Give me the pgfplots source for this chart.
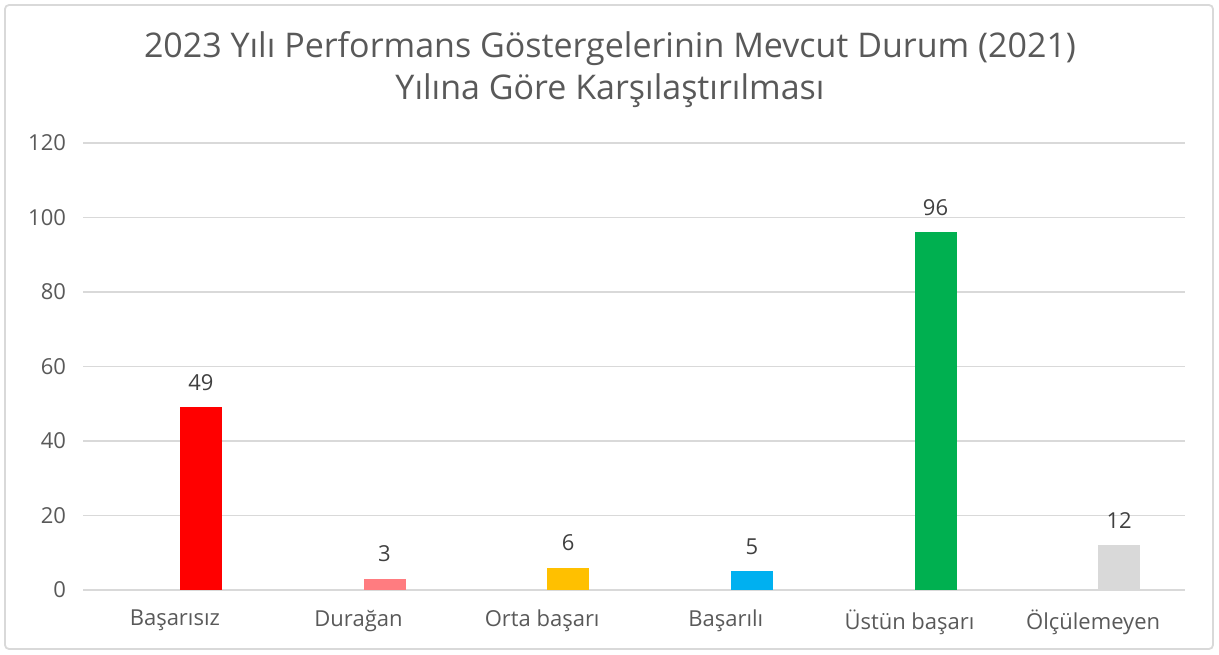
\documentclass[border=0pt]{standalone}
\usepackage{fontspec}
\setmainfont{Open Sans}
\usepackage{pgfplots}
\pgfplotsset{compat=1.18}
\definecolor{gridc}{HTML}{D9D9D9}
\definecolor{txt}{HTML}{595959}
\definecolor{lbl}{HTML}{404040}
\definecolor{c1}{HTML}{FF0000}
\definecolor{c2}{HTML}{FF7C80}
\definecolor{c3}{HTML}{FFC000}
\definecolor{c4}{HTML}{00B0F0}
\definecolor{c5}{HTML}{00B050}
\definecolor{c6}{HTML}{D9D9D9}
\begin{document}
\begin{tikzpicture}[x=0.5pt,y=0.5pt]
\path[use as bounding box] (0,0) rectangle (1219,654);
\draw[gridc, line width=0.9pt, rounded corners=2pt] (5,5) rectangle (1213,649);
\node[text=txt, font=\fontsize{17}{21}\selectfont, align=center] at (610,584) {2023 Yılı Performans Göstergelerinin Mevcut Durum (2021)\\Yılına Göre Karşılaştırılması};
\begin{axis}[
  at={(41.5pt,32pt)}, anchor=south west,
  scale only axis, width=551pt, height=223.5pt,
  ybar, bar width=21pt,
  xmin=-0.5, xmax=5.5, ymin=0, ymax=120,
  ytick={0,20,...,120},
  xtick={0,1,2,3,4,5},
  xticklabels={Başarısız,Durağan,Orta başarı,Başarılı,Üstün başarı,Ölçülemeyen},
  axis line style={draw=none},
  major tick length=0pt,
  ymajorgrids, grid style={gridc, line width=0.9pt},
  tick label style={text=txt, font=\fontsize{11}{12}\selectfont},
  /pgf/number format/assume math mode=true,
  yticklabel shift=5pt,
  xticklabel shift=6.5pt,
  clip=false,
  nodes near coords,
  every node near coord/.append style={text=lbl, font=\fontsize{11}{12}\selectfont, yshift=5pt},
]
\addplot[fill=c1, draw=none, bar shift=13pt] coordinates {(0,49)};
\addplot[fill=c2, draw=none, bar shift=13pt] coordinates {(1,3)};
\addplot[fill=c3, draw=none, bar shift=13pt] coordinates {(2,6)};
\addplot[fill=c4, draw=none, bar shift=13pt] coordinates {(3,5)};
\addplot[fill=c5, draw=none, bar shift=13pt] coordinates {(4,96)};
\addplot[fill=c6, draw=none, bar shift=13pt] coordinates {(5,12)};
\end{axis}
\end{tikzpicture}
\end{document}
